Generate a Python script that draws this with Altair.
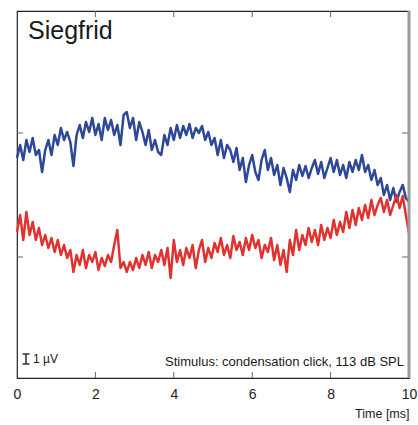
import altair as alt
import pandas as pd

# Averaged responses (µV, relative to the lower baseline tick), sampled every 0.08 ms from 0 to 10 ms
blue_uv = [
    9.9, 11.2, 9.7, 11.7, 10.5, 11.9, 10.2, 10.7, 8.5, 10.7,
    11.7, 10.2, 12.2, 11.2, 12.9, 11.7, 12.5, 11.5, 9.1, 12.2,
    13.2, 11.9, 13.5, 12.5, 13.9, 12.2, 13.3, 11.7, 13.9, 12.7,
    13.7, 12.2, 13.2, 11.2, 14.2, 14.5, 12.9, 13.9, 11.7, 13.5,
    12.5, 11.2, 12.7, 10.7, 11.7, 10.5, 10.2, 12.2, 11.2, 12.9,
    11.7, 13.2, 11.9, 13.1, 12.2, 13.3, 11.9, 12.9, 12.4, 13.1,
    11.7, 12.5, 11.2, 11.9, 10.2, 11.7, 9.9, 11.2, 10.7, 9.5,
    10.9, 8.7, 9.9, 7.5, 9.2, 10.2, 8.5, 7.7, 9.7, 10.7,
    8.7, 9.9, 8.2, 9.2, 7.2, 8.9, 7.9, 6.5, 8.7, 7.7,
    9.2, 8.1, 9.1, 7.9, 8.9, 9.7, 8.3, 9.5, 7.9, 8.9,
    9.9, 8.5, 9.7, 8.2, 9.2, 7.9, 9.5, 8.5, 9.7, 8.7,
    10.2, 8.5, 9.2, 7.7, 8.7, 7.2, 7.9, 6.2, 7.2, 5.7,
    6.9, 5.5, 6.5, 7.2, 5.9, 5.5,
]
red_uv = [
    2.5, 4.2, 1.7, 4.5, 2.2, 3.5, 1.7, 2.9, 1.2, 2.2,
    0.9, 1.9, 0.5, 1.7, 0.2, 1.2, -0.1, 0.7, -1.5, 0.2,
    -0.8, 0.7, -1.1, 0.2, -0.5, 0.5, -1.3, -0.1, -0.9, 0.2,
    -0.5, 1.2, 2.7, -1.1, -0.5, -1.5, -0.5, -1.3, -0.1, -1.1,
    0.2, -0.8, 0.5, -1.1, 0.2, -0.5, 0.7, -0.8, 0.9, -2.1,
    1.7, -0.5, 0.7, -0.8, 0.9, -0.1, 1.2, -1.1, 0.7, 1.7,
    -0.5, 0.9, -0.1, 1.4, 0.5, 1.9, 0.2, 1.2, -0.1, 2.1,
    0.7, 1.5, 0.2, 1.9, 0.7, 2.2, 0.9, 1.7, -0.1, 1.2,
    0.5, 1.9, -0.3, 1.2, -0.8, 0.7, -1.5, 1.7, 0.2, 2.7,
    0.7, 2.2, 1.2, 2.9, 1.5, 2.7, 1.2, 3.2, 1.7, 2.9,
    1.9, 3.7, 2.2, 3.5, 2.5, 4.5, 2.9, 4.7, 3.2, 4.9,
    3.7, 5.2, 3.9, 5.7, 4.2, 5.2, 5.9, 4.5, 5.7, 4.2,
    5.2, 6.2, 4.9, 6.1, 4.2, 2.4,
]
sample_step_ms = 0.08
x_ticks = [0, 2, 4, 6, 8, 10]
inner_x_ticks = [2, 4, 6, 8]
baseline_ticks = [0, 12.4]
scale_bar = [-10.7, -9.7]  # 1 µV

n = len(blue_uv)
time_ms = [round(i * sample_step_ms, 2) for i in range(n)]
df = pd.DataFrame({
    "t": time_ms + time_ms[: len(red_uv)],
    "v": blue_uv + red_uv,
    "s": ["blue"] * n + ["red"] * len(red_uv),
})

W, H = 392, 367
xs = alt.Scale(domain=[0, 10], nice=False, zero=False)
ys = alt.Scale(domain=[-12.1, 24.6], nice=False, zero=False)
FONT = "Liberation Sans"

lines = alt.Chart(df).mark_line(strokeWidth=2.5, strokeJoin="round").encode(
    x=alt.X("t:Q", scale=xs, axis=alt.Axis(
        values=x_ticks, title="Time [ms]", titleAnchor="end", titleFontWeight="normal",
        titleFontSize=12.5, titleColor="#222", titlePadding=6, titleFont=FONT,
        labelFont=FONT, labelFontSize=14, labelColor="#222", labelFlush=False,
        labelPadding=9, ticks=False, domain=False, grid=False, format="d")),
    y=alt.Y("v:Q", scale=ys, axis=None),
    color=alt.Color("s:N", scale=alt.Scale(domain=["blue", "red"], range=["#2d4898", "#e0332f"]), legend=None),
    detail="s:N",
)

xt = pd.DataFrame({"t": inner_x_ticks})
bottom_ticks = alt.Chart(xt).mark_rule(color="#666", strokeWidth=1).encode(
    x=alt.X("t:Q", scale=xs), y=alt.value(H), y2=alt.value(H - 6))
top_ticks = alt.Chart(xt).mark_rule(color="#666", strokeWidth=1).encode(
    x=alt.X("t:Q", scale=xs), y=alt.value(0), y2=alt.value(6))

yt = pd.DataFrame({"v": baseline_ticks})
left_ticks = alt.Chart(yt).mark_rule(color="#666", strokeWidth=1).encode(
    y=alt.Y("v:Q", scale=ys), x=alt.value(0), x2=alt.value(6))
right_ticks = alt.Chart(yt).mark_rule(color="#666", strokeWidth=1).encode(
    y=alt.Y("v:Q", scale=ys), x=alt.value(W), x2=alt.value(W - 7))

right_border = alt.Chart(pd.DataFrame({"a": [0]})).mark_rule(color="#9a9a9a", strokeWidth=3).encode(
    x=alt.value(W), y=alt.value(0), y2=alt.value(H))

sb = pd.DataFrame({"lo": [scale_bar[0]], "hi": [scale_bar[1]]})
bar_v = alt.Chart(sb).mark_rule(color="#222", strokeWidth=1.4).encode(
    x=alt.value(9), y=alt.Y("lo:Q", scale=ys), y2="hi:Q")
bar_lo = alt.Chart(sb).mark_rule(color="#222", strokeWidth=1.4).encode(
    x=alt.value(5.5), x2=alt.value(12.5), y=alt.Y("lo:Q", scale=ys))
bar_hi = alt.Chart(sb).mark_rule(color="#222", strokeWidth=1.4).encode(
    x=alt.value(5.5), x2=alt.value(12.5), y=alt.Y("hi:Q", scale=ys))

def label(txt, x, y, size, align="left"):
    return alt.Chart(pd.DataFrame({"txt": [txt]})).mark_text(
        font=FONT, fontSize=size, color="#1a1a1a", align=align, baseline="alphabetic"
    ).encode(text="txt:N", x=alt.value(x), y=alt.value(y))

title = label("Siegfrid", 11, 28, 25)
uv = label("1 µV", 16, 352, 12)
stim = label("Stimulus: condensation click, 113 dB SPL", 387, 355, 13, align="right")

chart = alt.layer(
    lines, bottom_ticks, top_ticks, left_ticks, right_ticks, right_border,
    bar_v, bar_lo, bar_hi, title, uv, stim,
).properties(
    width=W, height=H,
    padding={"left": 17, "top": 11, "right": 9, "bottom": 47},
    autosize=alt.AutoSizeParams(type="none"),
).configure_view(stroke="#222", strokeWidth=1.2)

chart.save("out.html", embed_options={"renderer": "svg", "actions": False})
